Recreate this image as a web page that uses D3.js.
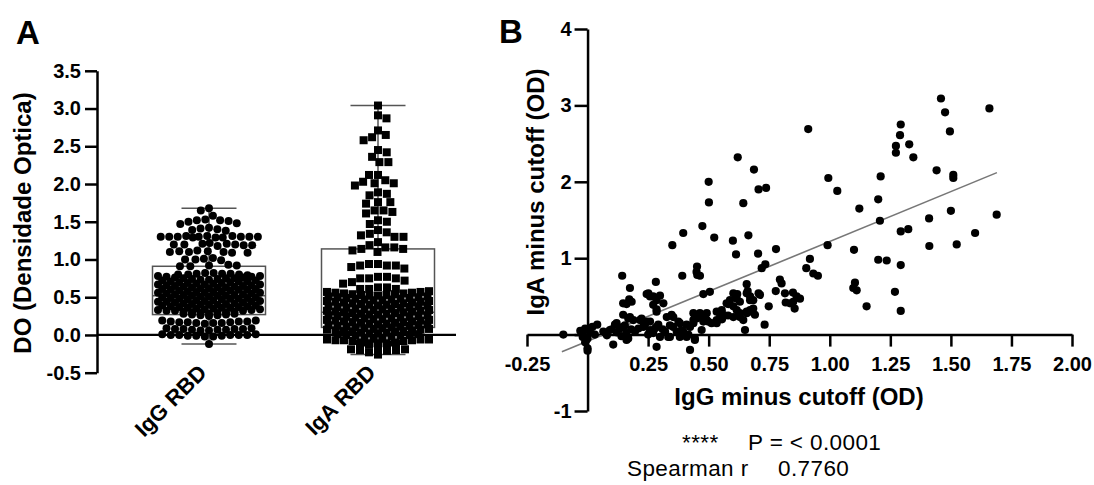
<!DOCTYPE html>
<html><head><meta charset="utf-8">
<script src="https://cdn.jsdelivr.net/npm/d3@7"></script>
<style>body{margin:0;background:#fff}svg{display:block;font-family:"Liberation Sans",Arial,sans-serif}</style>
</head><body><svg id="c" width="1094" height="485"></svg>
<script>
// ---------- Panel A data ----------
const categories = ["IgG RBD", "IgA RBD"];
const iggRBD = [
 1.68, 1.65, 1.58,
 1.53, 1.52, 1.52, 1.51, 1.50, 1.48, 1.47,
 1.42, 1.41, 1.40, 1.39, 1.38,
 1.31, 1.31, 1.31, 1.30, 1.30, 1.30, 1.30, 1.30, 1.30, 1.30, 1.29, 1.29, 1.29,
 1.22, 1.21, 1.21, 1.20, 1.20, 1.20, 1.19, 1.19, 1.18,
 1.12, 1.11, 1.11, 1.10, 1.10, 1.10, 1.09, 1.09,
 1.02, 1.01, 1.00, 1.00, 0.99,
 0.93, 0.92, 0.92, 0.91, 0.91,
 0.82, 0.82, 0.81, 0.81, 0.81, 0.80, 0.80, 0.80, 0.79,
 0.78, 0.78, 0.77, 0.77, 0.76, 0.76, 0.75, 0.75, 0.75, 0.74, 0.74, 0.73, 0.73, 0.72, 0.72, 0.71, 0.71, 0.71,
 0.70, 0.70, 0.69, 0.69, 0.68, 0.68, 0.67, 0.67, 0.67, 0.66, 0.66, 0.65, 0.65, 0.64, 0.64, 0.63, 0.63, 0.63,
 0.62, 0.62, 0.61, 0.61, 0.60, 0.60, 0.60, 0.59, 0.59, 0.58, 0.58, 0.57, 0.57, 0.56, 0.56, 0.56,
 0.55, 0.55, 0.54, 0.54, 0.53, 0.53, 0.52, 0.52, 0.52, 0.51, 0.51, 0.50, 0.50, 0.49, 0.49,
 0.48, 0.48, 0.48, 0.47, 0.47, 0.46, 0.46, 0.45, 0.45, 0.44, 0.44, 0.44, 0.43, 0.43, 0.42, 0.42,
 0.41, 0.41, 0.40, 0.40, 0.40, 0.39, 0.39, 0.38, 0.38, 0.37, 0.37, 0.36, 0.36, 0.36, 0.35, 0.35,
 0.34, 0.34, 0.33, 0.33, 0.32, 0.32, 0.32, 0.31, 0.31, 0.30, 0.30, 0.29, 0.29, 0.28, 0.28, 0.28,
 0.27, 0.27, 0.26, 0.26, 0.25,
 0.19, 0.19, 0.18, 0.18, 0.18, 0.17, 0.17, 0.17, 0.16, 0.16, 0.16, 0.15,
 0.09, 0.09, 0.08, 0.08, 0.08, 0.08, 0.07, 0.07, 0.07, 0.06, 0.06,
 0.01, 0.01, 0.00, 0.00, 0.00, 0.00, 0.00, -0.01, -0.01, -0.01, -0.02, -0.02,
 -0.12
];
const igaRBD = [
 3.04, 2.91, 2.87, 2.71, 2.65, 2.62, 2.58, 2.45, 2.42, 2.36, 2.29, 2.29,
 2.12, 2.12, 2.05, 2.03, 2.01, 2.01, 1.98, 1.89, 1.87, 1.85, 1.76, 1.76, 1.74,
 1.65, 1.65, 1.63, 1.61, 1.52, 1.50, 1.47, 1.39, 1.36, 1.34, 1.32, 1.30, 1.30,
 1.23, 1.19, 1.16, 1.16, 1.14, 1.14, 1.12, 1.10,
 0.94, 0.94, 0.92, 0.92, 0.92, 0.90, 0.88,
 0.77, 0.77, 0.75, 0.75, 0.75, 0.72, 0.70, 0.68, 0.63, 0.63, 0.61, 0.61, 0.61,
 0.58, 0.57, 0.57, 0.56, 0.56, 0.55, 0.55, 0.54, 0.54, 0.53, 0.53, 0.52, 0.52, 0.51, 0.51,
 0.50, 0.50, 0.49, 0.49, 0.48, 0.48, 0.47, 0.47, 0.46, 0.46, 0.45, 0.45, 0.44, 0.44,
 0.43, 0.43, 0.42, 0.42, 0.41, 0.41, 0.40, 0.40, 0.39, 0.39, 0.38, 0.38, 0.37, 0.37,
 0.36, 0.36, 0.35, 0.35, 0.34, 0.34, 0.33, 0.33, 0.32, 0.32, 0.31, 0.31, 0.30, 0.30,
 0.29, 0.29, 0.28, 0.28, 0.27, 0.27, 0.26, 0.26, 0.25, 0.25, 0.24, 0.24, 0.23, 0.23,
 0.22, 0.22, 0.21, 0.21, 0.20, 0.20, 0.19, 0.19, 0.18, 0.18, 0.17, 0.17, 0.16, 0.16,
 0.15, 0.15, 0.14, 0.14, 0.13, 0.13, 0.12, 0.12, 0.11, 0.11, 0.10, 0.10, 0.09, 0.09,
 0.08, 0.08, 0.07, 0.07, 0.06, 0.06, 0.05, 0.05, 0.04, 0.04, 0.03, 0.03, 0.02, 0.02,
 0.01, 0.01, 0.00, 0.00, -0.01, -0.01, -0.02,
 -0.05, -0.05, -0.05, -0.06, -0.06, -0.06, -0.07, -0.07, -0.07, -0.08, -0.08,
 -0.10, -0.10, -0.11, -0.11, -0.11, -0.12, -0.12, -0.13, -0.13,
 -0.18, -0.19, -0.19, -0.20, -0.20, -0.21, -0.23, -0.24, -0.26
];
// box statistics: [IgG, IgA]
const boxQ1 = [0.27, 0.10];
const boxQ3 = [0.91, 1.14];
const boxMedian = [0.52, 0.30];
const whiskerMin = [-0.12, -0.26];
const whiskerMax = [1.68, 3.04];
const yTicksA = [-0.5, 0, 0.5, 1, 1.5, 2, 2.5, 3, 3.5];

// ---------- Panel B data ----------
const corrPoints = [
 [-0.10,0.00],[-0.03,0.05],[-0.02,-0.03],[-0.01,0.08],[0.00,-0.05],[-0.01,-0.10],[0.00,-0.18],[0.00,-0.21],
 [-0.02,0.02],[0.01,0.03],[-0.005,-0.07],[0.02,0.10],[0.04,0.13],[0.03,0.00],
 [0.065,0.04],[0.075,0.02],[0.092,0.06],[0.10,0.07],[0.106,-0.13],[0.113,0.13],[0.120,0.15],[0.134,0.08],
 [0.147,0.10],[0.154,0.12],[0.161,0.02],[0.161,-0.07],[0.168,0.21],[0.168,-0.05],[0.147,0.26],[0.175,0.23],
 [0.189,0.19],[0.196,0.04],[0.08,-0.01],[0.12,0.03],[0.14,-0.02],[0.18,0.07],
 [0.143,0.77],[0.175,0.61],[0.147,0.41],[0.161,0.40],[0.182,0.43],[0.172,0.46],
 [0.216,0.19],[0.223,0.21],[0.230,0.10],[0.237,0.13],[0.244,0.17],[0.258,0.17],[0.258,0.06],[0.271,0.02],
 [0.278,0.08],[0.285,0.10],[0.292,0.13],[0.299,-0.03],[0.285,-0.16],[0.320,0.04],[0.333,-0.03],[0.327,0.23],
 [0.347,0.26],[0.285,0.30],[0.21,0.08],[0.25,0.00],[0.31,0.07],[0.34,0.12],
 [0.244,0.53],[0.251,0.54],[0.258,0.50],[0.271,0.50],[0.285,0.45],[0.299,0.51],[0.313,0.41],[0.271,0.39],
 [0.282,0.69],[0.285,0.33],
 [0.350,1.17],[0.395,1.33],[0.391,0.77],[0.453,0.78],[0.464,0.77],[0.452,0.89],[0.450,0.82],[0.474,1.42],
 [0.500,2.00],[0.501,1.73],[0.478,0.53],[0.505,0.56],[0.354,0.23],[0.381,0.15],[0.437,0.28],[0.450,0.21],
 [0.492,0.28],[0.437,0.15],[0.409,0.13],[0.478,0.17],[0.443,-0.07],[0.423,-0.20],[0.354,0.10],[0.368,0.04],
 [0.340,-0.03],[0.381,-0.03],[0.395,0.04],[0.409,-0.03],[0.423,0.10],[0.437,0.19],[0.450,0.23],[0.464,0.28],
 [0.478,0.23],[0.492,0.19],[0.375,0.17],[0.388,0.06],[0.416,0.00],[0.443,-0.05],[0.471,0.06],[0.498,0.17],
 [0.485,0.26],[0.443,0.26],
 [0.512,0.15],[0.533,0.19],[0.547,0.23],[0.560,0.26],[0.533,0.30],[0.554,0.32],[0.533,0.15],[0.523,1.27],
 [0.600,1.23],[0.613,1.05],[0.620,2.32],[0.643,1.72],[0.664,1.30],[0.687,2.16],[0.704,1.06],[0.706,1.90],
 [0.737,1.92],[0.574,0.41],[0.588,0.45],[0.581,0.40],[0.602,0.37],[0.616,0.32],[0.629,0.28],[0.657,0.30],
 [0.671,0.32],[0.684,0.34],[0.602,0.54],[0.616,0.47],[0.629,0.43],[0.618,0.53],[0.657,0.54],[0.671,0.50],
 [0.684,0.45],[0.712,0.52],[0.661,0.57],[0.671,0.45],[0.706,0.54],[0.657,0.66],[0.602,0.23],[0.629,0.23],
 [0.657,0.28],[0.678,0.30],[0.691,0.26],[0.643,0.19],[0.650,0.06],[0.731,0.13],[0.748,0.37],[0.719,0.87],
 [0.734,0.92],[0.555,0.20],[0.58,0.25],
 [0.778,1.12],[0.794,0.72],[0.801,0.67],[0.777,0.57],[0.815,0.54],[0.836,0.41],[0.848,0.55],[0.877,0.47],
 [0.818,0.42],[0.855,0.34],[0.863,0.50],[0.849,0.43],[0.911,2.69],[0.918,0.99],[0.903,0.87],[0.951,0.77],
 [0.932,0.80],[0.991,1.17],[0.994,2.05],[1.031,1.88],
 [1.100,1.11],[1.122,1.65],[1.200,1.77],[1.210,2.07],[1.207,1.49],[1.104,0.68],[1.111,0.58],[1.097,0.61],
 [1.152,0.37],[1.200,0.98],[1.235,0.97],[1.293,0.91],[1.269,0.56],[1.293,0.31],[1.293,2.75],[1.290,2.61],
 [1.273,2.47],[1.273,2.38],[1.328,2.49],[1.345,2.32],[1.293,1.35],[1.324,1.38],[1.410,1.52],[1.411,1.16],
 [1.441,2.15],[1.459,3.09],[1.476,2.91],[1.496,2.66],[1.510,2.09],[1.510,2.05],[1.500,1.62],[1.524,1.18],
 [1.600,1.33],[1.659,2.96],[1.689,1.57]
];
const fitLine = [[-0.106, -0.225], [1.69, 2.12]];
const xTicksB = [-0.25, 0.25, 0.5, 0.75, 1.0, 1.25, 1.5, 1.75, 2.0];
const yTicksB = [-1, 0, 1, 2, 3, 4];
const statLines = [["****", "P = < 0.0001"], ["Spearman r", "0.7760"]];

// ---------- drawing ----------
const svg = d3.select("#c");
const AX = 2.5;

const yA = d3.scaleLinear().domain([-0.5, 3.5]).range([372.7, 70.8]);
const xA = d3.scalePoint().domain(categories).range([209, 378]);
const gA = svg.append("g");

const axA = gA.append("g").attr("transform", "translate(97,0)")
  .call(d3.axisLeft(yA).tickValues(yTicksA).tickFormat(d => d.toFixed(1)).tickSize(12).tickSizeOuter(0).tickPadding(4));
axA.select(".domain").attr("stroke", "#000").attr("stroke-width", AX);
axA.selectAll(".tick line").attr("stroke", "#000").attr("stroke-width", AX);
axA.selectAll(".tick text").attr("font-size", 20).attr("font-weight", "bold").attr("fill", "#000");

gA.append("line").attr("x1", 97).attr("x2", 456).attr("y1", yA(0)).attr("y2", yA(0))
  .attr("stroke", "#000").attr("stroke-width", 2.2);

const boxHalf = 56.5, capHalf = 27.5;
categories.forEach((c, i) => {
  const cx = xA(c);
  const g = gA.append("g").attr("stroke", "#555").attr("stroke-width", 1.5).attr("fill", "none");
  g.append("rect").attr("x", cx - boxHalf).attr("width", boxHalf * 2)
    .attr("y", yA(boxQ3[i])).attr("height", yA(boxQ1[i]) - yA(boxQ3[i]));
  g.append("line").attr("x1", cx - boxHalf).attr("x2", cx + boxHalf).attr("y1", yA(boxMedian[i])).attr("y2", yA(boxMedian[i]));
  g.append("line").attr("x1", cx).attr("x2", cx).attr("y1", yA(whiskerMax[i])).attr("y2", yA(boxQ3[i]));
  g.append("line").attr("x1", cx).attr("x2", cx).attr("y1", yA(boxQ1[i])).attr("y2", yA(whiskerMin[i]));
  g.append("line").attr("x1", cx - capHalf).attr("x2", cx + capHalf).attr("y1", yA(whiskerMax[i])).attr("y2", yA(whiskerMax[i]));
  g.append("line").attr("x1", cx - capHalf).attr("x2", cx + capHalf).attr("y1", yA(whiskerMin[i])).attr("y2", yA(whiskerMin[i]));
});

// Sparse part: collision-avoiding swarm (exact y, horizontal offsets only)
function swarm(pts, D, maxHalf) {
  const placed = [];
  let side = 1;
  for (const p of pts) {
    let best;
    for (const f of [1, 0.85, 0.7, 0.55, 0.4]) {
      const d = D * f;
      const nb = placed.filter(q => Math.abs(q.y - p.y) < d);
      const cands = [0];
      for (const q of nb) { const dx = Math.sqrt(d * d - (q.y - p.y) ** 2); cands.push(q.x + dx, q.x - dx); }
      const ok = x => nb.every(q => (q.x - x) ** 2 + (q.y - p.y) ** 2 >= d * d - 0.01);
      cands.sort((a, b) => (Math.abs(a) - Math.abs(b)) || side * (b - a));
      best = cands.find(x => Math.abs(x) <= maxHalf + 0.01 && ok(x));
      if (best !== undefined) break;
    }
    p.x = best === undefined ? 0 : best; side = -side;
    placed.push(p);
  }
}
// Dense part: GraphPad-like rows, centre-out
function rows(pts, D, maxHalf, tol, capA, capB) {
  const rs = []; let cur = null;
  for (const p of pts) {
    if (cur && p.y - cur[0].y <= tol && cur.length < cur.cap) { cur.push(p); continue; }
    const prev = rs[rs.length - 1];
    cur = [p];
    cur.cap = (prev && prev.length >= prev.cap && prev.cap === capA) ? capB : capA;
    rs.push(cur);
  }
  rs.forEach(row => {
    const n = row.length;
    const s = n > 1 ? Math.min(D, 2 * maxHalf / (n - 1)) : 0;
    const pos = d3.range(n).map(i => (i - (n - 1) / 2) * s).sort((a, b) => (Math.abs(a) - Math.abs(b)) || (a - b));
    row.sort((a, b) => b.y - a.y);
    row.forEach((p, i) => { p.x = pos[i]; });
  });
}
function layout(values, y, split, D, maxHalf, tol) {
  const pts = values.map(v => ({ v, y: y(v), x: 0 })).sort((a, b) => a.y - b.y);
  swarm(pts.filter(p => p.v > split), D, maxHalf);
  rows(pts.filter(p => p.v <= split), D, maxHalf, tol, 13, 12);
  return pts;
}

const iggPts = layout(iggRBD, yA, 0.785, 8.5, 51, 4.6);
gA.append("g").selectAll("circle").data(iggPts).join("circle")
  .attr("cx", d => xA(categories[0]) + d.x).attr("cy", d => d.y).attr("r", 4).attr("fill", "#000");

const igaPts = layout(igaRBD, yA, 0.595, 9.0, 51, 4.8);
gA.append("g").selectAll("rect").data(igaPts).join("rect")
  .attr("x", d => xA(categories[1]) + d.x - 4).attr("y", d => d.y - 4)
  .attr("width", 8).attr("height", 8).attr("fill", "#000");

gA.append("g").selectAll("text").data(categories).join("text")
  .attr("transform", d => `translate(${xA(d) - 1},374) rotate(-45)`)
  .attr("text-anchor", "end").attr("font-size", 22).attr("font-weight", "bold").text(d => d);

gA.append("text").attr("transform", "translate(31,223) rotate(-90)").attr("text-anchor", "middle")
  .attr("font-size", 24).attr("font-weight", "bold").text("DO (Densidade Optica)");

svg.append("text").attr("x", 16).attr("y", 44).attr("font-size", 33).attr("font-weight", "bold").text("A");
svg.append("text").attr("x", 499).attr("y", 43).attr("font-size", 33).attr("font-weight", "bold").text("B");

// Panel B
const xB = d3.scaleLinear().domain([-0.25, 2.0]).range([527, 1072]);
const yB = d3.scaleLinear().domain([-1, 4]).range([411, 29]);
const gB = svg.append("g");

const axBy = gB.append("g").attr("transform", `translate(${xB(0)},0)`)
  .call(d3.axisLeft(yB).tickValues(yTicksB).tickFormat(d => d === 0 ? "" : String(d)).tickSize(13).tickSizeOuter(0).tickPadding(3));
const axBx = gB.append("g").attr("transform", `translate(0,${yB(0)})`)
  .call(d3.axisBottom(xB).tickValues(xTicksB).tickFormat(d => d.toFixed(2)).tickSize(12).tickSizeOuter(0).tickPadding(10));
[axBy, axBx].forEach(a => {
  a.select(".domain").attr("stroke", "#000").attr("stroke-width", AX);
  a.selectAll(".tick line").attr("stroke", "#000").attr("stroke-width", AX);
  a.selectAll(".tick text").attr("font-size", 20).attr("font-weight", "bold").attr("fill", "#000");
});

gB.append("line")
  .attr("x1", xB(fitLine[0][0])).attr("y1", yB(fitLine[0][1]))
  .attr("x2", xB(fitLine[1][0])).attr("y2", yB(fitLine[1][1]))
  .attr("stroke", "#777").attr("stroke-width", 1.6);

gB.append("g").selectAll("circle").data(corrPoints).join("circle")
  .attr("cx", d => xB(d[0])).attr("cy", d => yB(d[1])).attr("r", 4.1).attr("fill", "#000");

gB.append("text").attr("x", 799).attr("y", 405).attr("text-anchor", "middle")
  .attr("font-size", 24).attr("font-weight", "bold").text("IgG minus cutoff (OD)");
gB.append("text").attr("transform", "translate(544,192) rotate(-90)").attr("text-anchor", "middle")
  .attr("font-size", 24).attr("font-weight", "bold").text("IgA minus cutoff (OD)");

const statX = [[682, 748], [627, 778]];
const statY = [450, 476];
statLines.forEach((row, i) => {
  row.forEach((t, j) => {
    gB.append("text").attr("x", statX[i][j]).attr("y", statY[i])
      .attr("font-size", 22.5).attr("letter-spacing", 0.4).attr("fill", "#000").text(t);
  });
});
</script>
</body></html>
